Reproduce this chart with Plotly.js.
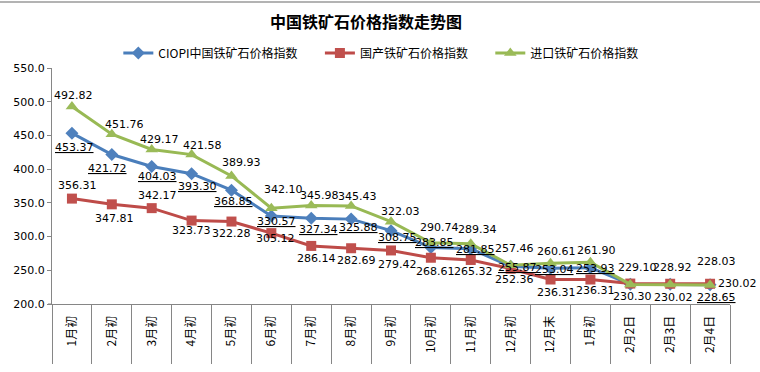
<!DOCTYPE html>
<html>
<head>
<meta charset="utf-8">
<script src="https://cdn.plot.ly/plotly-3.0.1.min.js"></script>
<style>
html,body{margin:0;padding:0;background:#fff;}
#chart{width:760px;height:372px;}
</style>
</head>
<body>
<div id="chart"></div>
<script>
// ---- data ----
const categories = ["1月初","2月初","3月初","4月初","5月初","6月初","7月初","8月初","9月初","10月初","11月初","12月初","12月末","1月初","2月2日","2月3日","2月4日"];
const seriesNames = ["CIOPI中国铁矿石价格指数","国产铁矿石价格指数","进口铁矿石价格指数"];
const ciopi = [453.37,421.72,404.03,393.30,368.85,330.57,327.34,325.88,308.75,283.85,281.85,255.87,253.04,253.93,229.47,229.26,228.65];
const domestic = [356.31,347.81,342.17,323.73,322.28,305.12,286.14,282.69,279.42,268.61,265.32,252.36,236.31,236.31,230.30,230.02,230.02];
const imported = [492.82,451.76,429.17,421.58,389.93,342.10,345.98,345.43,322.03,290.74,289.34,257.46,260.61,261.90,229.10,228.92,228.03];
const yTicks = [200,250,300,350,400,450,500,550];

// ---- label offsets (px, dx right, dy down); null = label hidden ----
const ciopiLabelOffsets = [[3,14],[-4,14],[6,10],[6,13],[2,11],[5,6],[7,11],[7,8],[6,7],[4,-5],[5,1],[7,1],[4,1],[5,1],null,null,[6,13]];
const domesticLabelOffsets = [[6,-13],[3,14],[6,-13],[0,10],[0,12],[4,5],[5,13],[5,12],[6,14],[5,14],[3,12],[4,11],[6,13],[5,11],[2,13],[3,14],[27,0]];
const importedLabelOffsets = [[2,-11],[13,-10],[8,-10],[11,-9],[10,-13],[12,-19],[8,-10],[6,-9],[9,-10],[9,-15],[7,-14],[4,-17],[6,-12],[6,-12],[7,-17],[2,-17],[6,-24]];
// extra spacing after legend entries (visual gap only)
const legendPad = ['\u3000\u00a0\u00a0', '\u3000\u00a0\u00a0', ''];

const idx = categories.map((c,i)=>i);
const bounds = categories.map((c,i)=>i-0.5).concat([categories.length-0.5]);

const colors = {
  blue:{line:'#4A7EBB', marker:'#4F81BD'},
  red:{line:'#BE4B48', marker:'#C0504D'},
  green:{line:'#98B954', marker:'#9BBB59'}
};

const traces = [
  {x:idx, y:ciopi, name:seriesNames[0]+legendPad[0], type:'scatter', mode:'lines+markers',
   line:{color:colors.blue.line, width:3}, marker:{symbol:'diamond', size:10, color:colors.blue.marker}},
  {x:idx, y:domestic, name:seriesNames[1]+legendPad[1], type:'scatter', mode:'lines+markers',
   line:{color:colors.red.line, width:3}, marker:{symbol:'square', size:10, color:colors.red.marker}},
  {x:idx, y:imported, name:seriesNames[2]+legendPad[2], type:'scatter', mode:'lines+markers',
   line:{color:colors.green.line, width:3}, marker:{symbol:'triangle-up', size:11, color:colors.green.marker}},
  {x:[0], y:[null], xaxis:'x2', yaxis:'y', type:'scatter', mode:'markers', showlegend:false, hoverinfo:'skip'}
];

const labelFont = {family:'DejaVu Sans, sans-serif', size:11, color:'#000'};
const annotations = [];
function addLabels(vals, offs, underline){
  vals.forEach((v,i)=>{
    const o = offs[i];
    if(!o) return;
    const t = v.toFixed(2);
    annotations.push({x:i, y:v, xref:'x', yref:'y', text: underline ? '<u>'+t+'</u>' : t,
      showarrow:false, xshift:o[0], yshift:-o[1], font:labelFont});
  });
}
addLabels(ciopi, ciopiLabelOffsets, true);
addLabels(domestic, domesticLabelOffsets, false);
addLabels(imported, importedLabelOffsets, false);

const xr = [-0.5, categories.length-0.5];
const layout = {
  width:760, height:372,
  margin:{l:52, r:30, t:68, b:68},
  paper_bgcolor:'#fff', plot_bgcolor:'#fff',
  font:{family:'Noto Sans CJK SC, DejaVu Sans, sans-serif', color:'#000'},
  title:{text:'<b>中国铁矿石价格指数走势图</b>', x:0.4816, xanchor:'center', y:0.94, yanchor:'middle',
         font:{family:'Noto Sans CJK SC, sans-serif', size:16, color:'#000'}},
  showlegend:true,
  legend:{orientation:'h', x:0.485, xanchor:'center', y:1.0 + (68-53)/236, yref:'paper', yanchor:'middle',
          font:{family:'Noto Sans CJK SC, sans-serif', size:12, color:'#000'}, bgcolor:'rgba(0,0,0,0)', itemwidth:30},
  xaxis:{type:'linear', range:xr, tickmode:'array', tickvals:idx, ticktext:categories,
         tickangle:-90, ticks:'', showline:true, linecolor:'#868686', linewidth:1,
         showgrid:false, zeroline:false, ticklabelstandoff:6, fixedrange:true,
         tickfont:{family:'Noto Sans CJK SC, sans-serif', size:12, color:'#000'}},
  xaxis2:{type:'linear', range:xr, overlaying:'x', anchor:'y', side:'bottom',
          tickmode:'array', tickvals:bounds, ticks:'outside', ticklen:59, tickcolor:'#868686', tickwidth:1,
          showticklabels:false, showline:false, showgrid:false, zeroline:false, fixedrange:true},
  yaxis:{range:[200,550], tickmode:'array', tickvals:yTicks, tickformat:'.1f',
         ticks:'outside', ticklen:4, tickcolor:'#868686', showline:true, linecolor:'#868686', linewidth:1,
         showgrid:false, zeroline:false, fixedrange:true,
         tickfont:{family:'DejaVu Sans, sans-serif', size:11, color:'#000'}},
  shapes:[
    {type:'line', xref:'paper', yref:'paper', x0:-52/678, x1:(760-52)/678, y0:(304-2)/236, y1:(304-2)/236,
     line:{color:'#9a9a9a', width:1.5}},
    {type:'line', xref:'paper', yref:'paper', x0:-4/678, x1:0, y0:0, y1:0,
     line:{color:'#868686', width:1}}
  ],
  annotations: annotations
};

Plotly.newPlot('chart', traces, layout, {displayModeBar:false, staticPlot:true});
</script>
</body>
</html>
